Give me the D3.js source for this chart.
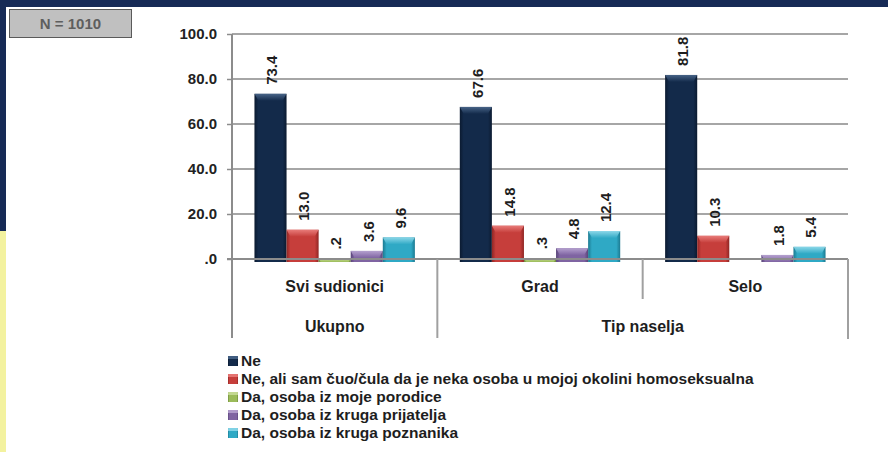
<!DOCTYPE html>
<html>
<head>
<meta charset="utf-8">
<script src="https://cdn.jsdelivr.net/npm/d3@7"></script>
<style>
  html, body { margin: 0; padding: 0; background: #ffffff; }
  svg { display: block; font-family: "Liberation Sans", Arial, sans-serif; }
</style>
</head>
<body>
<svg id="chart" width="888" height="452"></svg>
<script>
// ---- data ----
const categories = ["Svi sudionici", "Grad", "Selo"];
const groupLabels = ["Ukupno", "Tip naselja"];
const groupSpans = [1, 2]; // number of categories in each group
const seriesNames = [
  "Ne",
  "Ne, ali sam čuo/čula da je neka osoba u mojoj okolini homoseksualna",
  "Da, osoba iz moje porodice",
  "Da, osoba iz kruga prijatelja",
  "Da, osoba iz kruga poznanika"
];
const valuesNe         = [73.4, 67.6, 81.8];
const valuesCuo        = [13.0, 14.8, 10.3];
const valuesPorodica   = [0.2, 0.3, null];
const valuesPrijatelji = [3.6, 4.8, 1.8];
const valuesPoznanici  = [9.6, 12.4, 5.4];
const yTicks = [0, 20, 40, 60, 80, 100];
const sampleNote = "N = 1010";

const seriesValues = [valuesNe, valuesCuo, valuesPorodica, valuesPrijatelji, valuesPoznanici];
const palette = [
  { base: "#132a4a", light: "#4d6a8e", dark: "#0b1a30" },
  { base: "#c63e3b", light: "#ec8280", dark: "#8f2624" },
  { base: "#9bbb59", light: "#cde09f", dark: "#6f8a3b" },
  { base: "#7f64a2", light: "#bba8d4", dark: "#5a4579" },
  { base: "#2fa9c5", light: "#95dcec", dark: "#1c7a91" }
];

const svg = d3.select("#chart");
const W = 888, H = 452;

// ---- frame ----
svg.append("rect").attr("x", 0).attr("y", 0).attr("width", W).attr("height", H).attr("fill", "#ffffff");
svg.append("rect").attr("x", 0).attr("y", 0).attr("width", W).attr("height", 7).attr("fill", "#162a56");
svg.append("rect").attr("x", 0).attr("y", 0).attr("width", 6).attr("height", 231).attr("fill", "#162a56");
svg.append("rect").attr("x", 0).attr("y", 231).attr("width", 6).attr("height", H - 231).attr("fill", "#f3f29f");

// N box
svg.append("rect").attr("x", 9.5).attr("y", 9.5).attr("width", 122).attr("height", 28)
  .attr("fill", "#c0c0c0").attr("stroke", "#5a5a5a").attr("stroke-width", 1);
svg.append("text").attr("x", 70.5).attr("y", 24).attr("dy", "0.35em")
  .attr("text-anchor", "middle").attr("font-size", 15).attr("font-weight", "bold")
  .attr("fill", "#5e5e5e").text(sampleNote);

// ---- scales ----
const plotL = 232, plotR = 848, plotT = 34, plotB = 259;
const x0 = d3.scaleBand().domain(categories).range([plotL, plotR]).padding(0);
const x1 = d3.scaleBand().domain(d3.range(seriesNames.length)).range([0, x0.bandwidth()])
  .paddingInner(0).paddingOuter(0.7);
const y = d3.scaleLinear().domain([0, 100]).range([plotB, plotT]);

const fmt = v => d3.format(".1f")(v).replace(/^0\./, ".");

// ---- gridlines ----
svg.append("g").selectAll("line").data(yTicks.filter(t => t > 0)).join("line")
  .attr("x1", plotL).attr("x2", plotR)
  .attr("y1", d => y(d)).attr("y2", d => y(d))
  .attr("stroke", "#a6a6a6").attr("stroke-width", 2);

// ---- y axis ----
const yAxis = d3.axisLeft(y).tickValues(yTicks).tickSize(5).tickPadding(10).tickFormat(fmt);
const gy = svg.append("g").attr("transform", `translate(${plotL},0)`).call(yAxis);
gy.select(".domain").remove();
gy.selectAll(".tick line").attr("stroke", "#8c8c8c").attr("stroke-width", 1.5);
gy.selectAll(".tick text").attr("font-size", 15).attr("font-weight", "bold")
  .attr("fill", "#222").attr("font-family", "'Liberation Sans', Arial, sans-serif");

// ---- gradients ----
const defs = svg.append("defs");
palette.forEach((c, i) => {
  const g = defs.append("linearGradient").attr("id", "bg" + i)
    .attr("x1", "0%").attr("x2", "100%").attr("y1", "0%").attr("y2", "0%");
  g.append("stop").attr("offset", "0%").attr("stop-color", c.dark);
  g.append("stop").attr("offset", "12%").attr("stop-color", c.base);
  g.append("stop").attr("offset", "88%").attr("stop-color", c.base);
  g.append("stop").attr("offset", "100%").attr("stop-color", c.dark);
  const t = defs.append("linearGradient").attr("id", "tg" + i)
    .attr("x1", "0%").attr("x2", "0%").attr("y1", "0%").attr("y2", "100%");
  t.append("stop").attr("offset", "0%").attr("stop-color", c.light);
  t.append("stop").attr("offset", "100%").attr("stop-color", c.base);
});

// ---- bars ----
const barData = [];
categories.forEach((cat, ci) => {
  seriesValues.forEach((vals, si) => {
    barData.push({ cat, si, v: vals[ci] });
  });
});
const bars = svg.append("g");
barData.filter(d => d.v != null).forEach(d => {
  const bx = x0(d.cat) + x1(d.si);
  const bw = x1.bandwidth();
  const top = y(d.v);
  const bottom = y(0) + 3;
  const h = bottom - top;
  bars.append("rect").attr("x", bx).attr("y", top).attr("width", bw).attr("height", h)
    .attr("fill", `url(#bg${d.si})`);
  const bev = Math.min(7, h);
  const inset = Math.min(4, bev * 0.6);
  bars.append("path")
    .attr("d", `M${bx},${top} L${bx + bw},${top} L${bx + bw - inset},${top + bev} L${bx + inset},${top + bev} Z`)
    .attr("fill", `url(#tg${d.si})`).attr("opacity", 0.9);
});

// ---- baseline & category dividers ----
svg.append("line").attr("x1", plotL - 5).attr("x2", plotR).attr("y1", plotB).attr("y2", plotB)
  .attr("stroke", "#8c8c8c").attr("stroke-width", 2);
svg.append("line").attr("x1", plotL).attr("x2", plotL).attr("y1", plotT).attr("y2", 338)
  .attr("stroke", "#8c8c8c").attr("stroke-width", 2);
svg.append("line").attr("x1", plotR).attr("x2", plotR).attr("y1", plotB).attr("y2", 339)
  .attr("stroke", "#a0a0a0").attr("stroke-width", 2);
// group boundary (full height) and inner category divider (short)
let acc = 0;
groupSpans.forEach((span, gi) => {
  if (gi > 0) {
    const xb = x0(categories[acc]);
    svg.append("line").attr("x1", xb).attr("x2", xb).attr("y1", plotB).attr("y2", 338)
      .attr("stroke", "#a0a0a0").attr("stroke-width", 2);
  }
  for (let k = 1; k < span; k++) {
    const xb = x0(categories[acc + k]);
    svg.append("line").attr("x1", xb).attr("x2", xb).attr("y1", plotB).attr("y2", 299)
      .attr("stroke", "#a0a0a0").attr("stroke-width", 2);
  }
  const xs = x0(categories[acc]);
  const xe = x0(categories[acc + span - 1]) + x0.bandwidth();
  svg.append("text").attr("x", (xs + xe) / 2).attr("y", 326).attr("dy", "0.35em")
    .attr("text-anchor", "middle").attr("font-size", 16).attr("font-weight", "bold")
    .attr("fill", "#1e1e1e").text(groupLabels[gi]);
  acc += span;
});

// category labels
svg.append("g").selectAll("text").data(categories).join("text")
  .attr("x", d => x0(d) + x0.bandwidth() / 2).attr("y", 286).attr("dy", "0.35em")
  .attr("text-anchor", "middle").attr("font-size", 16).attr("font-weight", "bold")
  .attr("fill", "#1e1e1e").text(d => d);

// ---- value labels ----
svg.append("g").selectAll("text").data(barData.filter(d => d.v != null)).join("text")
  .attr("transform", d => {
    const cx = x0(d.cat) + x1(d.si) + x1.bandwidth() / 2 + 1.5;
    return `translate(${cx},${y(d.v) - 9}) rotate(-90)`;
  })
  .attr("dy", "0.35em").attr("text-anchor", "start")
  .attr("font-size", 15).attr("font-weight", "bold").attr("fill", "#1e1e1e")
  .text(d => fmt(d.v));

// ---- legend ----
const legend = svg.append("g");
seriesNames.forEach((name, i) => {
  const cy = 361 + i * 18;
  legend.append("rect").attr("x", 228).attr("y", cy - 5).attr("width", 10).attr("height", 10)
    .attr("fill", `url(#bg${i})`);
  legend.append("rect").attr("x", 228).attr("y", cy - 5).attr("width", 10).attr("height", 3)
    .attr("fill", palette[i].light).attr("opacity", 0.8);
  legend.append("text").attr("x", 241).attr("y", cy).attr("dy", "0.35em")
    .attr("font-size", 15.5).attr("font-weight", "bold").attr("fill", "#1e1e1e").text(name);
});
</script>
</body>
</html>
